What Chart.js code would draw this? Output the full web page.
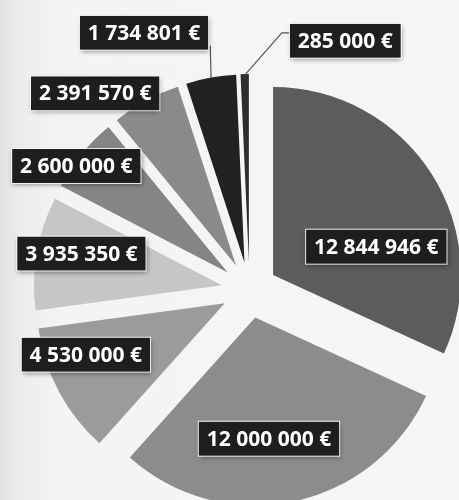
<!DOCTYPE html>
<html>
<head>
<meta charset="utf-8">
<script src="https://cdn.jsdelivr.net/npm/chart.js@4.4.1/dist/chart.umd.min.js"></script>
<style>
  html, body { margin:0; padding:0; }
  body { width:459px; height:500px; overflow:hidden;
         background: linear-gradient(to right, #e2e2e2 0px, #ececec 20px, #f4f4f4 60px, #f6f6f6 100%); }
  #wrap { position:relative; width:459px; height:500px; }
</style>
</head>
<body>
<div id="wrap"><canvas id="pie" width="459" height="500"></canvas></div>
<script>
// ── data ──
const labels = ['A', 'B', 'C', 'D', 'E', 'F', 'G', 'H'];
const amounts = [12844946, 12000000, 4530000, 3935350, 2600000, 2391570, 1734801, 285000];
const sliceColors = ['#5c5c5c', '#8c8c8c', '#9b9b9b', '#c6c6c6', '#858585', '#8a8a8a', '#222222', '#2e2e2e'];

// label placement relative to each slice (angle shift in deg, distance from pie centre in px)
const labelShift = [13.8, 4.3, 6.4, 2.4, -3.4, -9.4, -12, 22.3];
const labelDist  = [134, 150, 176, 172, 213, 250, 278, 267];
const leader     = [false, false, false, false, false, false, true, true];

const EXPLODE = 28; // gap each slice is pushed out, px

const fmtEur = v => String(v).replace(/\B(?=(\d{3})+(?!\d))/g, ' ') + ' €';

// chart.js's own offset shrinks small slices, so push the arcs out by translating instead
const explode = {
  id: 'explode',
  beforeDatasetDraw(chart, args) {
    const ctx = chart.ctx;
    args.meta.data.forEach(arc => {
      const p = arc.getProps(['startAngle','endAngle'], true);
      const mid = (p.startAngle + p.endAngle) / 2;
      ctx.save();
      ctx.translate(Math.cos(mid) * EXPLODE, Math.sin(mid) * EXPLODE);
      arc.draw(ctx);
      ctx.restore();
    });
    return false;
  }
};

const boxLabels = {
  id: 'boxLabels',
  afterDatasetsDraw(chart) {
    const ctx = chart.ctx;
    const meta = chart.getDatasetMeta(0);
    ctx.save();
    ctx.font = 'bold 21px "Open Sans", sans-serif';
    ctx.textBaseline = 'middle';
    ctx.textAlign = 'center';
    meta.data.forEach((arc, i) => {
      const p = arc.getProps(['x','y','startAngle','endAngle','outerRadius'], true);
      const mid = (p.startAngle + p.endAngle) / 2;
      const a = mid + labelShift[i] * Math.PI / 180;
      const cx = p.x + Math.cos(a) * labelDist[i];
      const cy = p.y + Math.sin(a) * labelDist[i];
      const txt = fmtEur(amounts[i]);
      const w = ctx.measureText(txt).width + 16;
      const h = 34;
      if (leader[i]) {
        const tx = p.x + Math.cos(mid) * (EXPLODE + p.outerRadius - 1);
        const ty = p.y + Math.sin(mid) * (EXPLODE + p.outerRadius - 1);
        ctx.strokeStyle = '#555';
        ctx.lineWidth = 1.2;
        ctx.beginPath();
        if (tx > cx) {
          ctx.moveTo(cx + w / 2 + 2, cy + h / 2 - 4);
          ctx.lineTo(tx, ty);
        } else {
          const sy = cy - 8;
          ctx.moveTo(cx - w / 2, sy);
          ctx.lineTo(cx - w / 2 - 8, sy);
          ctx.lineTo(tx, ty);
        }
        ctx.stroke();
      }
      ctx.shadowColor = 'rgba(0,0,0,0.45)';
      ctx.shadowBlur = 5;
      ctx.shadowOffsetX = 1;
      ctx.shadowOffsetY = 2;
      ctx.fillStyle = '#1e1e1e';
      ctx.fillRect(cx - w / 2, cy - h / 2, w, h);
      ctx.shadowColor = 'transparent';
      ctx.strokeStyle = 'rgba(255,255,255,0.85)';
      ctx.lineWidth = 1;
      ctx.strokeRect(cx - w / 2 - 0.5, cy - h / 2 - 0.5, w + 1, h + 1);
      ctx.fillStyle = '#ffffff';
      ctx.fillText(txt, cx, cy + 1);
    });
    ctx.restore();
  }
};

new Chart(document.getElementById('pie'), {
  type: 'pie',
  data: {
    labels: labels,
    datasets: [{
      data: amounts,
      backgroundColor: sliceColors,
      borderWidth: 0,
      clip: false
    }]
  },
  options: {
    responsive: false,
    animation: false,
    radius: 188,
    layout: { padding: { left: 40, right: 0, top: 80, bottom: 0 } },
    plugins: { legend: { display: false }, tooltip: { enabled: false } }
  },
  plugins: [explode, boxLabels]
});
</script>
</body>
</html>
